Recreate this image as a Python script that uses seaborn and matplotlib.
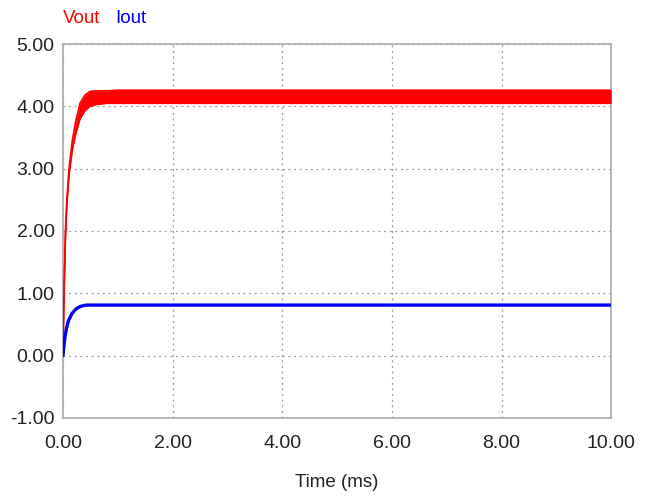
import matplotlib
matplotlib.use("Agg")
import matplotlib.pyplot as plt
import seaborn as sns
import pandas as pd
from matplotlib import font_manager

# ---- data ----
time_ms = [0.0, 0.01, 0.02, 0.045, 0.07, 0.11, 0.17, 0.23, 0.31, 0.4, 0.49, 0.6, 0.8, 1.0, 2.0, 4.0, 6.0, 8.0, 10.0]
vout_upper = [0.0, 0.6, 1.1, 2.0, 2.5, 3.0, 3.45, 3.75, 4.05, 4.18, 4.24, 4.25, 4.25, 4.26, 4.26, 4.26, 4.26, 4.26, 4.26]
vout_lower = [0.0, 0.55, 1.0, 1.9, 2.4, 2.9, 3.3, 3.55, 3.8, 3.93, 4.0, 4.03, 4.05, 4.05, 4.05, 4.05, 4.05, 4.05, 4.05]
iout_time = [0.0, 0.02, 0.04, 0.067, 0.1, 0.16, 0.24, 0.32, 0.42, 0.6, 1.0, 2.0, 4.0, 6.0, 8.0, 10.0]
iout = [0.0, 0.18, 0.32, 0.45, 0.56, 0.67, 0.75, 0.79, 0.81, 0.81, 0.81, 0.81, 0.81, 0.81, 0.81, 0.81]
x_ticks = [0, 2, 4, 6, 8, 10]
y_ticks = [-1, 0, 1, 2, 3, 4, 5]
series_names = ["Vout", "Iout"]
series_colors = ["#ff0000", "#0000ff"]

sns.set_theme(style="white")
names = {f.name for f in font_manager.fontManager.ttflist}
fam = ["Liberation Sans Narrow"] if "Liberation Sans Narrow" in names else []
plt.rcParams["font.family"] = fam + ["Liberation Sans", "DejaVu Sans"]

fig = plt.figure(figsize=(6.48, 5.01), dpi=100)
ax = fig.add_axes([0.0972, 0.166, 0.846, 0.746])

vdf = pd.DataFrame({"t": time_ms, "hi": vout_upper, "lo": vout_lower})
idf = pd.DataFrame({"t": iout_time, "i": iout})

ax.fill_between(vdf["t"], vdf["lo"], vdf["hi"], color=series_colors[0], lw=0, zorder=3)
sns.lineplot(data=vdf, x="t", y="hi", ax=ax, color=series_colors[0], lw=1.2, zorder=3)
sns.lineplot(data=vdf, x="t", y="lo", ax=ax, color=series_colors[0], lw=1.2, zorder=3)
sns.lineplot(data=idf, x="t", y="i", ax=ax, color=series_colors[1], lw=2.4, zorder=3)

ax.set_xlim(0, 10)
ax.set_ylim(-1, 5)
ax.set_xticks(x_ticks)
ax.set_yticks(y_ticks)
ax.set_xticklabels([f"{v:.2f}" for v in x_ticks])
ax.set_yticklabels([f"{v:.2f}" for v in y_ticks])
ax.tick_params(axis="both", length=0, labelsize=14, colors="#222222")
ax.tick_params(axis="x", pad=12)
ax.tick_params(axis="y", pad=6)
ax.grid(True, color="#999999", linestyle=(0, (1.5, 3)), linewidth=0.9)
for s in ax.spines.values():
    s.set_color("#aaaaaa")
    s.set_linewidth(1.2)
ax.set_xlabel("Time (ms)", fontsize=13.5, color="#222222", labelpad=16)
ax.set_ylabel("")

fig.text(0.097, 0.947, series_names[0], color=series_colors[0], fontsize=13.5, ha="left", va="bottom")
fig.text(0.178, 0.947, series_names[1], color=series_colors[1], fontsize=13.5, ha="left", va="bottom")

fig.savefig("out.png", dpi=100)
